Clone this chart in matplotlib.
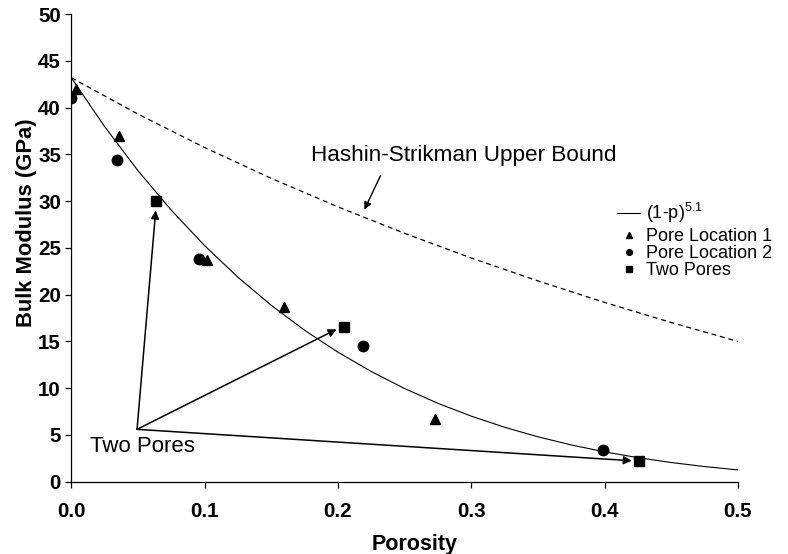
import numpy as np
import matplotlib
matplotlib.use("Agg")
import matplotlib.pyplot as plt

plt.rcParams['font.family'] = ['Liberation Sans', 'DejaVu Sans']
plt.rcParams['mathtext.default'] = 'regular'

# model curve (1-p)^5.1
curve_p = [0.0, 0.025, 0.05, 0.075, 0.1, 0.125, 0.15, 0.175, 0.2, 0.225, 0.25,
           0.275, 0.3, 0.325, 0.35, 0.375, 0.4, 0.425, 0.45, 0.475, 0.5]
curve_k = [43.2, 37.97, 33.26, 29.03, 25.24, 21.86, 18.86, 16.19, 13.85, 11.78, 9.96,
           8.38, 7.01, 5.82, 4.80, 3.93, 3.19, 2.57, 2.05, 1.62, 1.26]

# Hashin-Strikman upper bound (dashed)
hs_p = [0.0, 0.05, 0.1, 0.15, 0.2, 0.25, 0.3, 0.35, 0.4, 0.45, 0.5]
hs_k = [43.2, 39.31, 35.73, 32.44, 29.39, 26.56, 23.92, 21.47, 19.17, 17.02, 15.0]

loc1_p = [0.0035, 0.036, 0.1016, 0.1596, 0.273]
loc1_k = [42.0, 37.0, 23.7, 18.7, 6.7]
loc2_p = [0.0, 0.034, 0.096, 0.2186, 0.399]
loc2_k = [41.0, 34.4, 23.8, 14.5, 3.35]
two_p = [0.0635, 0.2046, 0.4259]
two_k = [30.0, 16.5, 2.24]

# "Two Pores" arrows: common start, tips next to the squares
arrow_start = (0.0493, 5.6)
arrow_tips = [(0.0633, 29.0), (0.199, 16.3), (0.4204, 2.24)]

fig = plt.figure(figsize=(7.88, 5.54), dpi=100)
ax = fig.add_axes([0.0905, 0.1305, 0.846, 0.844])

curve, = ax.plot(curve_p, curve_k, color='black', lw=0.8, zorder=2)
ax.plot(hs_p, hs_k, color='black', lw=0.9, ls=(0, (4, 3)), zorder=2)
m1, = ax.plot(loc1_p, loc1_k, ls='none', marker='^', ms=7.5, color='black', zorder=3)
m2, = ax.plot(loc2_p, loc2_k, ls='none', marker='o', ms=7.5, color='black', zorder=3)
m3, = ax.plot(two_p, two_k, ls='none', marker='s', ms=7.5, color='black', zorder=3)

for tip in arrow_tips:
    ax.annotate('', xy=tip, xytext=arrow_start,
                arrowprops=dict(arrowstyle='-|>', color='black', lw=1.1,
                                mutation_scale=12, shrinkA=0, shrinkB=0))
ax.text(0.014, 3.75, 'Two Pores', fontsize=16, ha='left', va='center')

ax.annotate('', xy=(0.2198, 29.1), xytext=(0.232, 32.75),
            arrowprops=dict(arrowstyle='-|>', color='black', lw=1.0,
                            mutation_scale=11, shrinkA=0, shrinkB=0))
ax.text(0.1796, 34.9, 'Hashin-Strikman Upper Bound', fontsize=16.2, ha='left', va='center')

ax.set_xlim(0, 0.5)
ax.set_ylim(0, 50)
ax.set_xticks(np.arange(0, 0.51, 0.1))
ax.set_xticklabels(['0.0', '0.1', '0.2', '0.3', '0.4', '0.5'])
ax.set_yticks(np.arange(0, 51, 5))
for s in ['top', 'right']:
    ax.spines[s].set_visible(False)
for s in ['left', 'bottom']:
    ax.spines[s].set_linewidth(0.9)
ax.tick_params(axis='both', direction='out', length=4.5, width=0.9, labelsize=14.8)
ax.tick_params(axis='x', pad=10)
ax.tick_params(axis='y', pad=3)
for lab in ax.get_xticklabels() + ax.get_yticklabels():
    lab.set_fontweight('bold')

ax.set_xlabel('Porosity', fontsize=15.5, fontweight='bold')
ax.set_ylabel('Bulk Modulus (GPa)', fontsize=15.8, fontweight='bold')
ax.xaxis.set_label_coords(0.515, -0.112)
ax.yaxis.set_label_coords(-0.051, 0.555)

leg_opts = dict(loc='center left', frameon=False, fontsize=13, handlelength=1.3,
                handletextpad=0.3, labelspacing=0.0, borderpad=0, borderaxespad=0,
                markerscale=0.55)
leg1 = ax.legend([curve], ['(1-p)$^{5.1}$'], bbox_to_anchor=(0.8185, 0.574), **leg_opts)
ax.add_artist(leg1)
ax.legend([m1, m2, m3], ['Pore Location 1', 'Pore Location 2', 'Two Pores'],
          bbox_to_anchor=(0.8185, 0.488), **leg_opts)

fig.savefig('out.png', dpi=100)
